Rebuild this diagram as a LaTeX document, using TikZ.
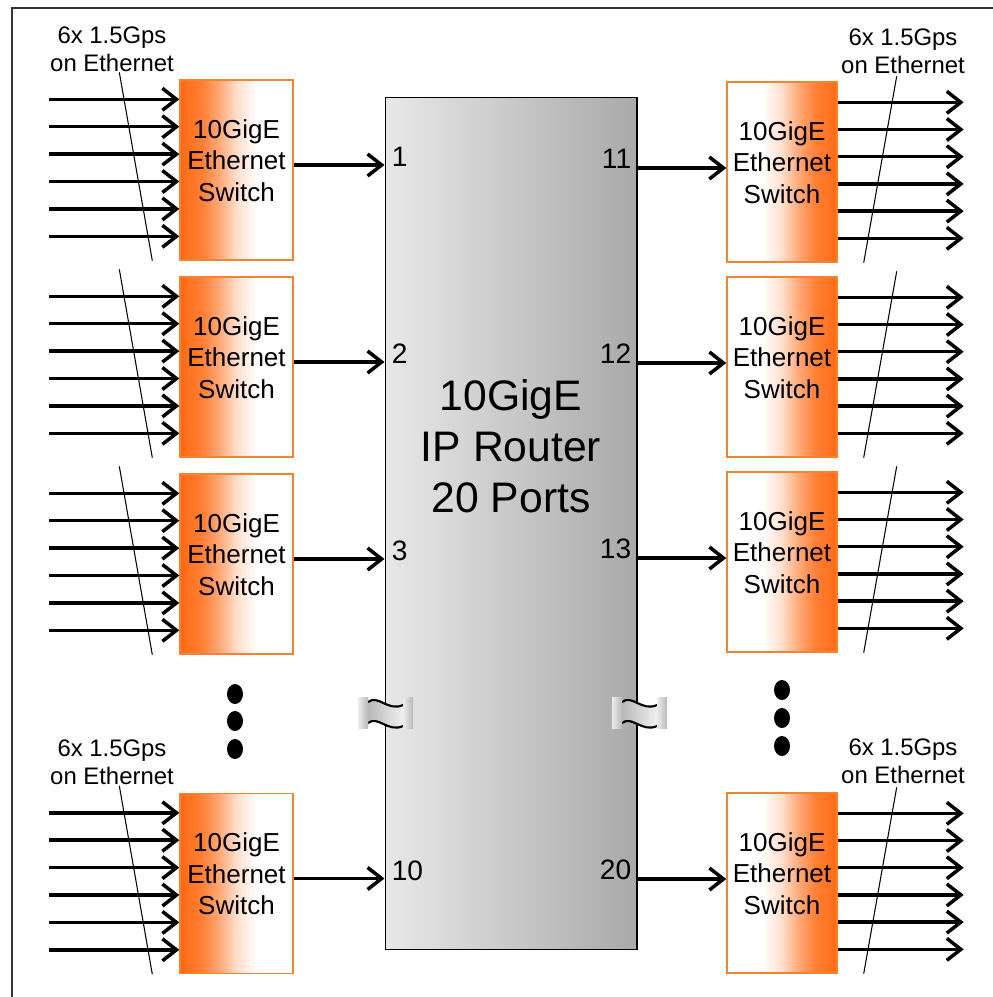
\documentclass[tikz,border=0pt]{standalone}
\usepackage{fontspec}
\setmainfont{Liberation Sans}
\usetikzlibrary{arrows.meta,positioning,calc}
\definecolor{SwOrange}{HTML}{FF6A13}
\definecolor{SwBorder}{HTML}{F5822E}
\definecolor{RouterLight}{HTML}{E8E8E8}
\definecolor{RouterDark}{HTML}{A9A9A9}
\definecolor{FrameGray}{HTML}{333333}
\colorlet{SwMidA}{SwOrange!85!white}
\colorlet{SwMidB}{SwOrange!55!white}
\colorlet{SwMidC}{SwOrange!22!white}
\pgfdeclarehorizontalshading{swfadeL}{100bp}{color(0bp)=(SwOrange); color(25bp)=(SwOrange); color(35bp)=(SwMidA); color(43bp)=(SwMidB); color(50bp)=(SwMidC); color(59bp)=(white); color(100bp)=(white)}
\pgfdeclarehorizontalshading{swfadeR}{100bp}{color(0bp)=(white); color(41bp)=(white); color(50bp)=(SwMidC); color(57bp)=(SwMidB); color(65bp)=(SwMidA); color(75bp)=(SwOrange); color(100bp)=(SwOrange)}

\begin{document}
\begin{tikzpicture}[x=0.02cm,y=-0.02cm,
  swleft/.style={draw=SwBorder,line width=0.8pt,shade,shading=swfadeL,minimum width=2.26cm,minimum height=3.6cm,inner sep=0pt},
  swright/.style={draw=SwBorder,line width=0.8pt,shade,shading=swfadeR,minimum width=2.2cm,minimum height=3.6cm,inner sep=0pt},
  swtext/.style={align=center,font=\fontsize{14.8}{18}\selectfont,yshift=0.19cm},
  router/.style={draw=black,line width=0.6pt,left color=RouterLight,right color=RouterDark,minimum width=5.04cm,minimum height=17.06cm,inner sep=0pt},
  routertext/.style={align=center,font=\fontsize{24.3}{29}\selectfont,yshift=1.55cm},
  port/.style={inner sep=0pt,font=\fontsize{16}{19}\selectfont},
  note/.style={align=center,font=\fontsize{13.6}{16}\selectfont},
  link/.style={-{Straight Barb[length=8pt,width=12.5pt]},line width=2pt},
  slash/.style={line width=0.6pt},
  frame/.style={draw=FrameGray,line width=0.85pt},
  tab/.style={left color=gray!15,right color=gray!55}
]
\useasboundingbox (0,0) rectangle (992,997);
\draw[frame] (12,1010) -- (12,8) -- (1005,8);

% router
\node[router,label={[routertext]center:10GigE\\IP Router\\20 Ports}] (router) at (511,523.5) {};

% left switches feeding ports 1,2,3,10
\foreach \i/\yc/\num in {1/170/1,2/367/2,3/564/3,4/883.5/10} {
  \node[swleft,label={[swtext]center:10GigE\\Ethernet\\Switch}] (swL\i) at (236.5,\yc) {};
  \path (swL\i.east) ++(0,-5) coordinate (outL\i);
  \draw[link] (outL\i) -- (outL\i -| router.west);
  \node[port,anchor=west] (numL\i) at ($(outL\i -| router.west)+(7,-8)$) {\num};
  \foreach \k in {0,...,5}
    \draw[link] ($(swL\i.north west)+(-130,20+27.4*\k)$) -- ($(swL\i.north west)+(0,20+27.4*\k)$);
  \draw[slash] ($(swL\i.north west)+(-60,-7)$) -- ($(swL\i.south west)+(-27,0)$);
}

% right switches fed by ports 11,12,13,20
\foreach \i/\yc/\num in {1/172/11,2/367/12,3/562/13,4/883/20} {
  \node[swright,label={[swtext]center:10GigE\\Ethernet\\Switch}] (swR\i) at (782,\yc) {};
  \path (swR\i.west) ++(0,-4) coordinate (inR\i);
  \draw[link] (inR\i -| router.east) -- (inR\i);
  \node[port,anchor=east] (numR\i) at ($(inR\i -| router.east)+(-6,-9)$) {\num};
  \foreach \k in {0,...,5}
    \draw[link] ($(swR\i.north east)+(0,21+27.2*\k)$) -- ($(swR\i.north east)+(126,21+27.2*\k)$);
  \draw[slash] ($(swR\i.north east)+(59,-5)$) -- ($(swR\i.south east)+(26,0)$);
}

% line labels
\node[note] (noteTL) at (112,49) {6x 1.5Gps\\on Ethernet};
\node[note] (noteBL) at (112,762) {6x 1.5Gps\\on Ethernet};
\node[note] (noteTR) at (903,51) {6x 1.5Gps\\on Ethernet};
\node[note] (noteBR) at (903,761) {6x 1.5Gps\\on Ethernet};

% dots
\foreach \yd in {694,721,749}
  \fill (235,\yd) ellipse [x radius=8,y radius=10];
\foreach \yd in {690,718,746}
  \fill (782,\yd) ellipse [x radius=8,y radius=10];

% break marks on the router
\foreach \bx in {358,612} {
  \shade[left color=gray!55,right color=gray!12] (\bx+10,702) .. controls (\bx+20,694) and (\bx+30,712) .. (\bx+45,705) -- (\bx+45,726) .. controls (\bx+30,733) and (\bx+20,715) .. (\bx+10,723) -- cycle;
  \draw[line width=1.2pt] (\bx+10,702) .. controls (\bx+20,694) and (\bx+30,712) .. (\bx+45,705);
  \draw[line width=1.2pt] (\bx+10,723) .. controls (\bx+20,715) and (\bx+30,733) .. (\bx+45,726);
  \shade[tab] (\bx,697) rectangle (\bx+10,728);
  \shade[tab] (\bx+45,697) rectangle (\bx+55,728);
}
\end{tikzpicture}
\end{document}
